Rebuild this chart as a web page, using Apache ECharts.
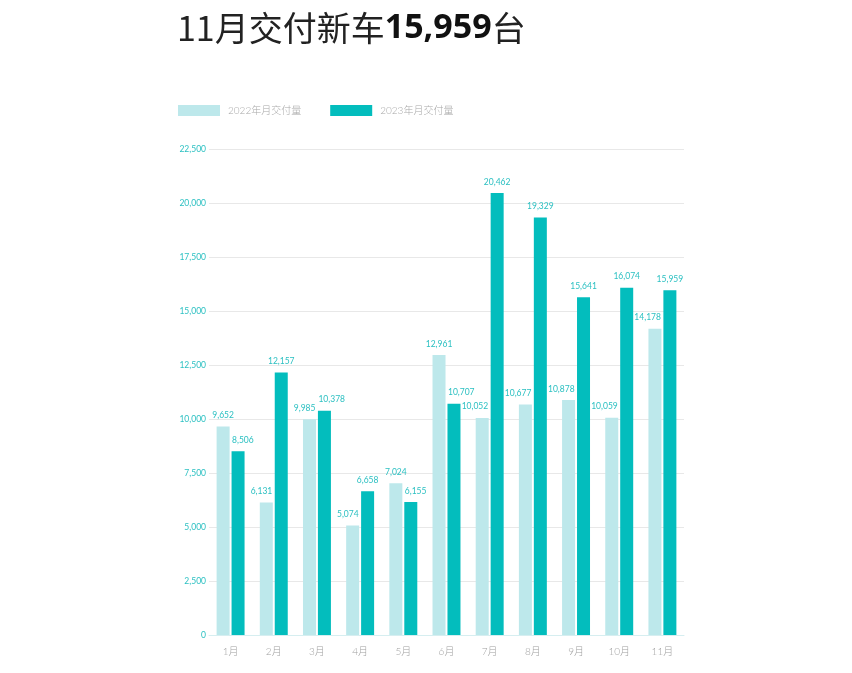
<!DOCTYPE html>
<html>
<head>
<meta charset="utf-8">
<script src="https://cdn.jsdelivr.net/npm/echarts@6/dist/echarts.min.js"></script>
<style>
  html, body { margin: 0; padding: 0; background: #fff; }
  #chart { width: 852px; height: 673px; }
</style>
</head>
<body>
<div id="chart"></div>
<script>
var chart = echarts.init(document.getElementById('chart'));

var months = ['1月', '2月', '3月', '4月', '5月', '6月', '7月', '8月', '9月', '10月', '11月'];
var deliveries2022 = [9652, 6131, 9985, 5074, 7024, 12961, 10052, 10677, 10878, 10059, 14178];
var deliveries2023 = [8506, 12157, 10378, 6658, 6155, 10707, 20462, 19329, 15641, 16074, 15959];
var seriesNames = ['2022年月交付量', '2023年月交付量'];

var teal = '#2cc0c2';
var fontFamily = 'Lato, "Noto Sans CJK SC", sans-serif';

function fmt(v) {
    return Number(v).toLocaleString('en-US');
}

var labelStyle = {
    show: true,
    position: 'top',
    distance: 7,
    color: teal,
    fontSize: 8.5,
    fontFamily: fontFamily,
    formatter: function (p) { return fmt(p.value); }
};

// nudge labels sideways when the neighbouring bar would cover them
function nudgeLabel(params) {
    var i = params.dataIndex;
    var a = deliveries2022[i], b = deliveries2023[i];
    var half = params.labelRect.width / 2;
    if (params.seriesIndex === 0) {
        return { dx: b > a - 500 ? Math.min(0, 6 - half) : 0 };
    }
    return { dx: a > b - 500 ? Math.max(0, half - 6) : 0 };
}

var option = {
    backgroundColor: '#fff',
    textStyle: { fontFamily: fontFamily },
    title: {
        left: 172,
        top: 6,
        text: '{n|11月交付新车}{b|15,959}{n|台}',
        textStyle: {
            rich: {
                n: { fontSize: 34, color: '#222', fontFamily: '"Noto Sans CJK SC", sans-serif', fontWeight: 'normal' },
                b: { fontSize: 34, color: '#111', fontFamily: '"Open Sans", "Noto Sans", sans-serif', fontWeight: 'bold' }
            }
        }
    },
    legend: {
        left: 173,
        top: 100,
        itemWidth: 42,
        itemHeight: 11,
        itemGap: 29,
        icon: 'rect',
        data: seriesNames,
        textStyle: { color: '#a8a8a8', fontSize: 10, fontWeight: 300, padding: [0, 0, 0, 3] }
    },
    grid: {
        left: 209,
        right: 168,
        top: 149,
        bottom: 38,
        containLabel: false
    },
    xAxis: {
        type: 'category',
        data: months,
        axisLine: { show: true, lineStyle: { color: '#d6eef0' } },
        axisTick: { show: false },
        axisLabel: { color: '#a0a0a0', fontSize: 10, fontWeight: 300, margin: 12 }
    },
    yAxis: {
        type: 'value',
        min: 0,
        max: 22500,
        interval: 2500,
        axisLine: { show: false },
        axisTick: { show: false },
        axisLabel: {
            color: teal,
            fontSize: 8.5,
            margin: 3,
            formatter: function (v) { return fmt(v); }
        },
        splitLine: { lineStyle: { color: '#e8e8e8', width: 1 } }
    },
    series: [{
        name: seriesNames[0],
        type: 'bar',
        barWidth: 13,
        barGap: '15%',
        itemStyle: { color: '#bde8eb' },
        label: labelStyle,
        labelLayout: nudgeLabel,
        data: deliveries2022
    }, {
        name: seriesNames[1],
        type: 'bar',
        barWidth: 13,
        barGap: '15%',
        itemStyle: { color: '#03bdbd' },
        label: labelStyle,
        labelLayout: nudgeLabel,
        data: deliveries2023
    }]
};

chart.setOption(option);
</script>
</body>
</html>
